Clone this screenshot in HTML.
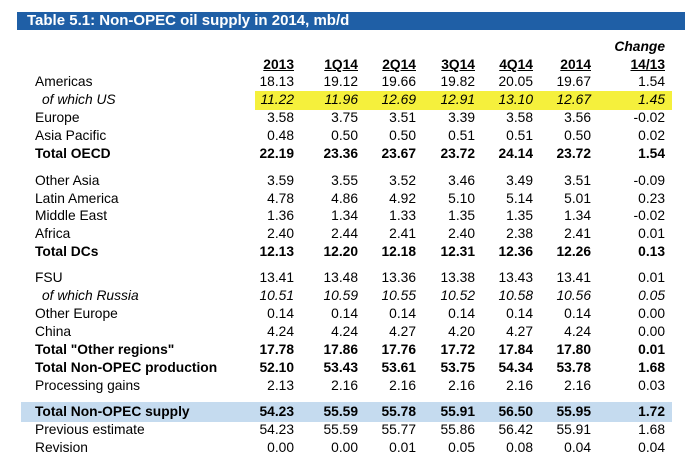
<!DOCTYPE html>
<html><head><meta charset="utf-8">
<style>
body{margin:0;width:691px;height:467px;background:#fff;position:relative;overflow:hidden;font-family:"Liberation Sans",Arial,sans-serif;font-size:13.8px;color:#000}
.a{position:absolute;white-space:nowrap;line-height:16px}
.r{text-align:right}
#title{position:absolute;left:17px;top:12px;width:668px;height:18px;background:#1f5fa6;color:#fff;font-weight:bold;font-size:15px;line-height:18px;padding-left:10px;box-sizing:border-box}
</style></head><body>
<div id="title">Table 5.1: Non-OPEC oil supply in 2014, mb/d</div>
<div class="a" style="left:21px;top:402px;width:651px;height:20px;background:#c5dbef"></div>
<div class="a" style="left:255px;top:91px;width:417px;height:19px;background:#f5f03c"></div>
<div class="a r" style="right:26px;top:39px;font-weight:bold;font-style:italic">Change</div>
<script>
const columns=["2013","1Q14","2Q14","3Q14","4Q14","2014","14/13"];
const labels=["Americas","of which US","Europe","Asia Pacific","Total OECD","Other Asia","Latin America","Middle East","Africa","Total DCs","FSU","of which Russia","Other Europe","China","Total \"Other regions\"","Total Non-OPEC production","Processing gains","Total Non-OPEC supply","Previous estimate","Revision"];
const v2013=["18.13","11.22","3.58","0.48","22.19","3.59","4.78","1.36","2.40","12.13","13.41","10.51","0.14","4.24","17.78","52.10","2.13","54.23","54.23","0.00"];
const v1Q14=["19.12","11.96","3.75","0.50","23.36","3.55","4.86","1.34","2.44","12.20","13.48","10.59","0.14","4.24","17.86","53.43","2.16","55.59","55.59","0.00"];
const v2Q14=["19.66","12.69","3.51","0.50","23.67","3.52","4.92","1.33","2.41","12.18","13.36","10.55","0.14","4.27","17.76","53.61","2.16","55.78","55.77","0.01"];
const v3Q14=["19.82","12.91","3.39","0.51","23.72","3.46","5.10","1.35","2.40","12.31","13.38","10.52","0.14","4.20","17.72","53.75","2.16","55.91","55.86","0.05"];
const v4Q14=["20.05","13.10","3.58","0.51","24.14","3.49","5.14","1.35","2.38","12.36","13.43","10.58","0.14","4.27","17.84","54.34","2.16","56.50","56.42","0.08"];
const v2014=["19.67","12.67","3.56","0.50","23.72","3.51","5.01","1.34","2.41","12.26","13.41","10.56","0.14","4.24","17.80","53.78","2.16","55.95","55.91","0.04"];
const vChange=["1.54","1.45","-0.02","0.02","1.54","-0.09","0.23","-0.02","0.01","0.13","0.01","0.05","0.00","0.00","0.01","1.68","0.03","1.72","1.68","0.04"];
const boldRows=[4,9,14,15,17];
const italicRows=[1,11];
const series=[v2013,v1Q14,v2Q14,v3Q14,v4Q14,v2014,vChange];
const colRight=[294,358,416,475,533,591,665];
const rowTop=[74,92,110,128,146,173,191,208,226,244,270,288,306,324,342,360,378,404,422,440];
function mk(cls,style,txt){const d=document.createElement('div');d.className=cls;d.setAttribute('style',style);d.textContent=txt;document.body.appendChild(d);return d;}
columns.forEach((c,i)=>{
  const d=mk('a r',`right:${691-colRight[i]}px;top:57px;font-weight:bold;text-decoration:underline`,c);
  
  
});
labels.forEach((l,r)=>{
  const b=boldRows.includes(r),it=italicRows.includes(r);
  const st=(b?'font-weight:bold;':'')+(it?'font-style:italic;':'');
  const d=mk('a',`left:${it?42:35}px;top:${rowTop[r]}px;${st}`,l);
  
  
  series.forEach((s,c)=>{
    const e=mk('a r',`right:${691-colRight[c]}px;top:${rowTop[r]}px;${st}`,s[r]);
    
    
  });
});
</script>
</body></html>
